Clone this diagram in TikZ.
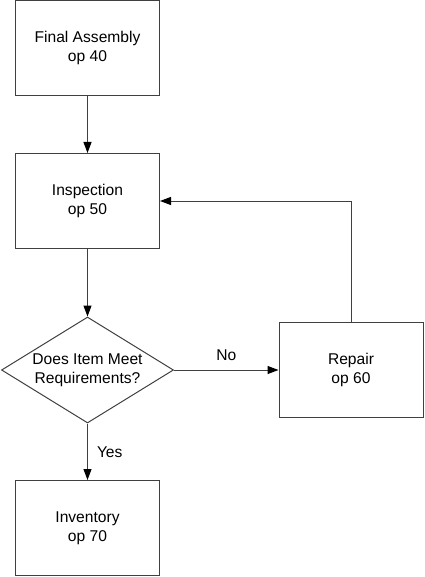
\documentclass[tikz,border=0pt]{standalone}
\usepackage{fontspec}
\setmainfont{Liberation Sans}
\usetikzlibrary{arrows.meta,positioning,shapes.geometric}

\begin{document}
\begin{tikzpicture}[x=1pt,y=-1pt,font=\fontsize{15.6}{19.5}\selectfont]
  %----- styles
  \tikzset{
    opbox/.style ={draw=black!75,line width=1pt,minimum width=144pt,minimum height=95pt,align=center},
    check/.style ={draw=black!75,line width=1pt,diamond,aspect=1.62,inner sep=0pt,
                   minimum width=172pt,minimum height=106pt,align=center},
    arrow/.style ={-{Triangle[length=11pt,width=8pt,color=black]},draw=black!75,line width=1pt},
    lbl/.style   ={inner sep=0pt}
  }

  %----- frame
  \useasboundingbox (0,0) rectangle (424,577);

  %==================== COLUMN LAYOUT ====================
  \def\xMain{87.5}  % main flow column
  \def\xRep{351}    % repair column

  %----- nodes
  \node[opbox] (final) at (\xMain,48)  {Final Assembly\\op 40};
  \node[opbox] (insp)  at (\xMain,201) {Inspection\\op 50};
  \node[check] (meet)  at (\xMain,370) {Does Item Meet\\Requirements?};
  \node[opbox] (rep)   at (\xRep,370)  {Repair\\op 60};
  \node[opbox] (inv)   at (\xMain,528) {Inventory\\op 70};

  %----- connections
  \draw[arrow] (final.south) -- (insp.north);
  \draw[arrow] (insp.south) -- (meet.north);
  \draw[arrow] (meet.east) -- node[lbl,above=9pt] {No} (rep.west);
  \draw[arrow] (meet.south) -- node[lbl,right=9pt] {Yes} (inv.north);

  % repair loops back to inspection
  \draw[arrow] (rep.north) |- (insp.east);

\end{tikzpicture}
\end{document}
